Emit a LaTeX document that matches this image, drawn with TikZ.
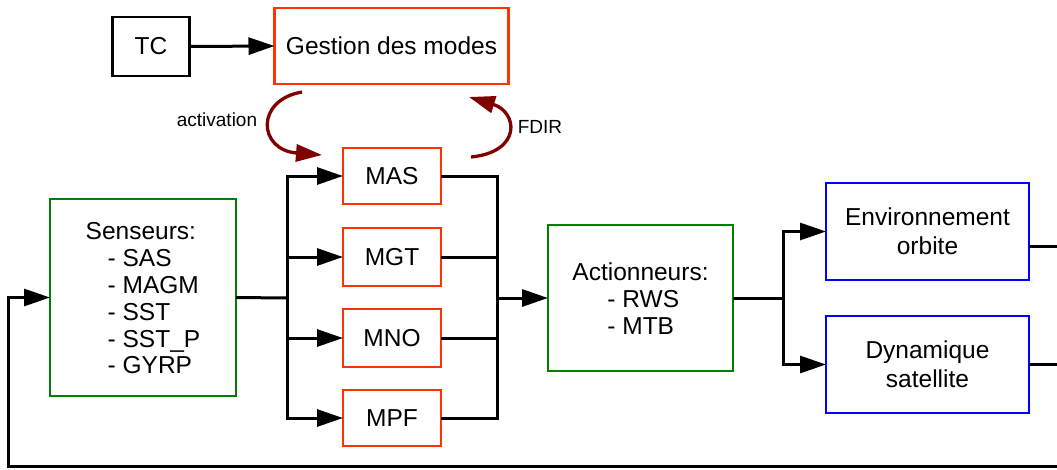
\documentclass[tikz,border=0pt]{standalone}
\usepackage{fontspec}
\setmainfont{Liberation Sans}
\usetikzlibrary{arrows.meta}
\definecolor{boxred}{HTML}{FF3300}
\definecolor{boxgreen}{HTML}{008000}
\definecolor{boxblue}{HTML}{0000FF}
\definecolor{curvered}{HTML}{800000}
\begin{document}
\begin{tikzpicture}[x=1pt,y=-1pt,
  blk/.style={draw, line width=2.8pt, rectangle, inner sep=0pt, outer sep=0pt, align=center,
    font=\fontsize{24.5}{29}\selectfont},
  redbox/.style={blk, draw=boxred},
  greenbox/.style={blk, draw=boxgreen},
  bluebox/.style={blk, draw=boxblue},
  wire/.style={line width=3pt, line join=miter},
  arr/.style={wire, -{Triangle[length=26pt,width=17pt]}},
  curv/.style={line width=3.3pt, draw=curvered, -{Triangle[length=26pt,width=17pt]}},
  lbl/.style={font=\fontsize{19}{22}\selectfont, inner sep=0pt}]
\useasboundingbox (0,0) rectangle (1057,469);

\node[blk, minimum width=77pt, minimum height=59pt] (tc) at (151,46.5) {TC};
\node[redbox, minimum width=234pt, minimum height=76pt] (gm) at (391.5,46) {Gestion des modes};

\node[redbox, minimum width=98pt, minimum height=56pt] (mas) at (392,176) {MAS};
\node[redbox, minimum width=98pt, minimum height=58pt] (mgt) at (392,257) {MGT};
\node[redbox, minimum width=98pt, minimum height=58pt] (mno) at (392,338) {MNO};
\node[redbox, minimum width=98pt, minimum height=56pt] (mpf) at (392,418) {MPF};

\node[greenbox, minimum width=186pt, minimum height=197pt, font=\fontsize{24.5}{26.8}\selectfont] (sens) at (143,297.5)
  {\raisebox{-4pt}[\height][\depth]{\begin{tabular}{@{}l@{}}Senseurs:\\\hspace*{22pt}- SAS\\\hspace*{22pt}- MAGM\\\hspace*{22pt}- SST\\\hspace*{22pt}- SST\_P\\\hspace*{22pt}- GYRP\end{tabular}}};
\node[greenbox, minimum width=185pt, minimum height=146pt, font=\fontsize{24.5}{27}\selectfont] (act) at (640.5,298)
  {\raisebox{-4pt}[\height][\depth]{\begin{tabular}{@{}l@{}}Actionneurs:\\\hspace*{35pt}- RWS\\\hspace*{35pt}- MTB\end{tabular}}};

\node[bluebox, minimum width=203pt, minimum height=97pt] (env) at (927.5,231.5) {Environnement\\orbite};
\node[bluebox, minimum width=203pt, minimum height=97pt] (dyn) at (927.5,364.5) {Dynamique\\satellite};

% TC -> Gestion
\draw[arr] (tc.east) -- (gm.west);

% Senseurs -> bus -> modes
\coordinate (lb) at (287,298);
\draw[wire] (sens.east) -- (lb);
\draw[arr] (lb |- mas.west) -- (mas.west);
\draw[arr] (lb |- mgt.west) -- (mgt.west);
\draw[arr] (lb |- mno.west) -- (mno.west);
\draw[arr] (lb |- mpf.west) -- (mpf.west);
\draw[wire, line cap=rect] (lb |- mas.west) -- (lb |- mpf.west);

% modes -> bus -> Actionneurs
\coordinate (rb) at (497,298);
\draw[wire] (mas.east) -- (rb |- mas.east);
\draw[wire] (mgt.east) -- (rb |- mgt.east);
\draw[wire] (mno.east) -- (rb |- mno.east);
\draw[wire] (mpf.east) -- (rb |- mpf.east);
\draw[wire, line cap=rect] (rb |- mas.east) -- (rb |- mpf.east);
\draw[arr] (rb) -- (act.west);

% Actionneurs -> Env / Dyn
\coordinate (ab) at (783,298);
\draw[wire] (act.east) -- (ab);
\draw[wire, line cap=rect] (ab |- env.west) -- (ab |- dyn.west);
\draw[arr] (ab |- env.west) -- (env.west);
\draw[arr] (ab |- dyn.west) -- (dyn.west);

% outputs to the right edge
\coordinate (eo) at (1057,246);
\coordinate (do) at (1057,364);
\draw[wire] (env.east |- eo) -- (eo);
\draw[wire] (dyn.east |- do) -- (do);

% feedback
\coordinate (fbr) at (1057,466);
\coordinate (fbl) at (8,466);
\draw[arr] (fbr) -- (fbl) |- (sens.west);

% curved arrows
\coordinate (a1) at (302,92);
\coordinate (a2) at (322,155);
\draw[curv] (a1) .. controls (255,100) and (258,150) .. (a2);
\coordinate (f1) at (471,157);
\coordinate (f2) at (469,97);
\draw[curv] (f1) .. controls (522,152) and (518,112) .. (f2);

\node[lbl] (lact) at (217,120) {activation};
\node[lbl] (lfdir) at (540,127) {FDIR};
\end{tikzpicture}
\end{document}
